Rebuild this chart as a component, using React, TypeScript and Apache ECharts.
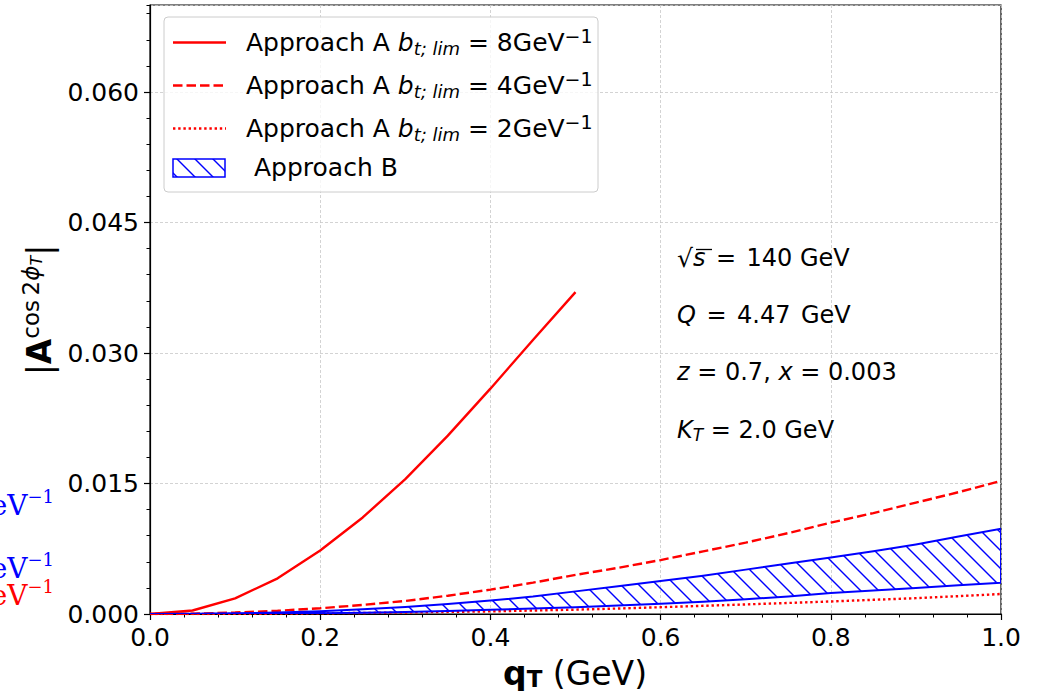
import { useEffect, useRef } from 'react';
import * as echarts from 'echarts';

// transverse momentum grid (GeV)
const qT = [0, 0.05, 0.1, 0.15, 0.2, 0.25, 0.3, 0.35, 0.4, 0.45, 0.5, 0.55, 0.6, 0.65, 0.7, 0.75, 0.8, 0.85, 0.9, 0.95, 1.0];
const qTShort = [0, 0.05, 0.1, 0.15, 0.2, 0.25, 0.3, 0.35, 0.4, 0.45, 0.5];

// |A^{cos 2phi_T}| for Approach A at three b_{t;lim} cut-offs
const approachA8 = [0, 0.0004, 0.0018, 0.0041, 0.0073, 0.0111, 0.0155, 0.0205, 0.0259, 0.0315, 0.037];
const approachA4 = [0, 0.00004, 0.00017, 0.00037, 0.00066, 0.00104, 0.0015, 0.0021, 0.0028, 0.0036, 0.0045,
  0.0053, 0.0062, 0.0072, 0.0082, 0.0093, 0.0105, 0.0116, 0.0128, 0.014, 0.0153];
const approachA2 = [0, 0.000004, 0.000015, 0.00004, 0.00008, 0.00012, 0.00017, 0.00024, 0.0003, 0.0004, 0.0005,
  0.00063, 0.00078, 0.00094, 0.0011, 0.00127, 0.00144, 0.00163, 0.00182, 0.00205, 0.0023];

// Approach B uncertainty band
const approachBLow = [0, 0.000005, 0.00002, 0.00005, 0.0001, 0.00015, 0.00024, 0.00035, 0.00048, 0.00062, 0.00078,
  0.00097, 0.00117, 0.0014, 0.0017, 0.002, 0.0024, 0.0027, 0.003, 0.0033, 0.0036];
const approachBHigh = [0, 0.00002, 0.00008, 0.00018, 0.00033, 0.00055, 0.0008, 0.00115, 0.00155, 0.002, 0.0026,
  0.0032, 0.0038, 0.0044, 0.0051, 0.0058, 0.0065, 0.0072, 0.008, 0.0089, 0.0098];

const legendCutoffs = ['8', '4', '2'];

const RED = '#ff0000';
const BLUE = '#0000ff';
const SANS = 'DejaVu Sans';
const SERIF = 'DejaVu Serif';
const RED_W = 2.4;
const DASH = [9.5, 4];
const DOT = [2.4, 2.8];
const legendDash: (number[] | null)[] = [null, DASH, DOT];

function makeHatch(size: number) {
  const c = document.createElement('canvas');
  c.width = size;
  c.height = size;
  const ctx = c.getContext('2d')!;
  ctx.strokeStyle = BLUE;
  ctx.lineWidth = 1.4;
  for (const k of [-1, 0, 1]) {
    ctx.beginPath();
    ctx.moveTo(k * size - 2, -2);
    ctx.lineTo(k * size + size + 2, size + 2);
    ctx.stroke();
  }
  return { image: c, repeat: 'repeat', imageWidth: size, imageHeight: size } as any;
}

function txt(x: number, y: number, text: string, rich: any, extra: any = {}) {
  return {
    type: 'text',
    x,
    y,
    z: 100,
    ...extra,
    style: {
      text,
      rich,
      fill: '#000',
      align: extra.align || 'left',
      textAlign: extra.align || 'left',
      verticalAlign: 'middle',
      textVerticalAlign: 'middle',
      fontFamily: SANS,
    },
  };
}

// token that sits off the main line: its box height sets the shift
function shifted(fontSize: number, box: number, where: 'top' | 'bottom', extra: any = {}) {
  return { fontSize, fontFamily: SANS, height: box, lineHeight: box, verticalAlign: where, fill: '#000', ...extra };
}

export default function App() {
  const ref = useRef<HTMLDivElement>(null);

  useEffect(() => {
    const chart = echarts.init(ref.current!, undefined, { renderer: 'svg' });
    const hatch = makeHatch(18);

    const legendRich = {
      n: { fontSize: 25, fontFamily: SANS, lineHeight: 25, fill: '#000' },
      i: { fontSize: 25, fontFamily: SANS, fontStyle: 'italic', lineHeight: 25, fill: '#000' },
      sub: shifted(18, 13.8, 'bottom', { fontStyle: 'italic' }),
      sup: shifted(19, 11, 'top'),
    };
    const legendRows = [42.5, 85.5, 128.5];
    const legendEls: any[] = [
      {
        type: 'rect',
        z: 90,
        shape: { x: 164, y: 17, width: 434, height: 175, r: 4 },
        style: { fill: 'rgba(255,255,255,0.8)', stroke: '#cccccc', lineWidth: 1 },
      },
    ];
    legendCutoffs.forEach((b, i) => {
      const y = legendRows[i];
      legendEls.push({
        type: 'line',
        z: 95,
        shape: { x1: 173, y1: y, x2: 226, y2: y },
        style: { stroke: RED, lineWidth: RED_W, lineDash: legendDash[i] || undefined },
      });
      legendEls.push(
        txt(246, y, `{n|Approach A }{i|b}{sub|t; lim}{n| = ${b}GeV}{sup|\u22121}`, legendRich)
      );
    });
    legendEls.push({
      type: 'rect',
      z: 95,
      shape: { x: 173, y: 159, width: 52, height: 18 },
      style: { fill: hatch, stroke: BLUE, lineWidth: 1.5 },
    });
    legendEls.push(txt(246, 167.5, '{n| Approach B}', legendRich));

    // kinematics box
    const annRich = {
      n: { fontSize: 24, fontFamily: SANS, lineHeight: 24, fill: '#000' },
      r: { fontSize: 25, fontFamily: SANS, lineHeight: 24, fill: '#000' },
      i: { fontSize: 24, fontFamily: SANS, fontStyle: 'italic', lineHeight: 24, fill: '#000' },
      w: { fontSize: 24, fontFamily: SANS, lineHeight: 24, width: 10.5 },
      sub: shifted(17, 14.4, 'bottom', { fontStyle: 'italic' }),
    };
    const annEls: any[] = [
      txt(677, 258, '{r|\u221a}{i|s}{w| }{n|=}{w| }{n|140 GeV}', annRich),
      { type: 'line', z: 100, shape: { x1: 696, y1: 249.5, x2: 712, y2: 249.5 }, style: { stroke: '#000', lineWidth: 1.3 } },
      txt(677, 315, '{i|Q}{w| }{n|=}{w| }{n|4.47}{w| }{n|GeV}', annRich),
      txt(677, 372, '{i|z}{n| = 0.7, }{i|x}{n| = 0.003}', annRich),
      txt(677, 430, '{i|K}{sub|T}{n| = 2.0 GeV}', annRich),
    ];

    // axis titles
    const titleRich = {
      n: { fontSize: 33, fontFamily: SANS, lineHeight: 33, fill: '#000' },
      b: { fontSize: 33, fontFamily: SANS, fontWeight: 'bold', lineHeight: 33, fill: '#000' },
      bsub: shifted(23, 21, 'bottom', { fontWeight: 'bold' }),
      sup: shifted(23, 17.8, 'top'),
      supi: shifted(23, 17.8, 'top', { fontStyle: 'italic' }),
      supsub: shifted(16, 28, 'top', { fontStyle: 'italic' }),
    };
    const titleEls: any[] = [
      txt(575, 673, '{b|q}{bsub|T}{n| (GeV)}', titleRich, { align: 'center' }),
      txt(39, 310, '{n||}{b|A}{sup|cos\u20092}{supi|\u03d5}{supsub|T}{n||}', titleRich, { align: 'center', rotation: Math.PI / 2 }),
    ];

    // labels running in from the left margin
    const edgeRich = (color: string) => ({
      m: { fontSize: 28, fontFamily: SERIF, lineHeight: 28, fill: color },
      p: { fontSize: 18, fontFamily: SERIF, height: 11, lineHeight: 11, verticalAlign: 'top', fill: color },
    });
    const edgeEls: any[] = [
      txt(54, 505, '{m|GeV}{p|\u22121}', edgeRich(BLUE), { align: 'right' }),
      txt(54, 568, '{m|GeV}{p|\u22121}', edgeRich(BLUE), { align: 'right' }),
      txt(54, 595, '{m|GeV}{p|\u22121}', edgeRich(RED), { align: 'right' }),
    ];

    const gridLine = { show: true, lineStyle: { color: '#c8c8c8', width: 0.8, type: [3, 2] } };
    const tickStyle = { color: '#000', width: 1.2 };

    chart.setOption({
      animation: false,
      backgroundColor: '#ffffff',
      textStyle: { fontFamily: SANS },
      grid: { left: 150, right: 50, top: 5, bottom: 77, show: true, borderColor: '#000', borderWidth: 1.2, backgroundColor: 'transparent' },
      xAxis: {
        type: 'value',
        min: 0,
        max: 1,
        interval: 0.2,
        axisLine: { lineStyle: tickStyle },
        axisTick: { length: 6, lineStyle: tickStyle },
        minorTick: { show: true, splitNumber: 5, length: 3.5, lineStyle: { color: '#000', width: 1 } },
        axisLabel: { fontSize: 25, color: '#000', fontFamily: SANS, margin: 11, formatter: (v: number) => v.toFixed(1) },
        splitLine: gridLine,
      },
      yAxis: [
        {
          type: 'value',
          min: 0,
          max: 0.07,
          interval: 0.015,
          axisLine: { show: true, lineStyle: tickStyle },
          axisTick: { show: true, length: 6, lineStyle: tickStyle },
          axisLabel: { fontSize: 25, color: '#000', fontFamily: SANS, margin: 11, showMaxLabel: false, formatter: (v: number) => v.toFixed(3) },
          splitLine: gridLine,
        },
        {
          type: 'value',
          min: 0,
          max: 0.07,
          interval: 0.003,
          position: 'left',
          axisLine: { show: false },
          axisTick: { show: true, length: 3.5, lineStyle: { color: '#000', width: 1 } },
          axisLabel: { show: false },
          splitLine: { show: false },
        },
      ],
      series: [
        {
          type: 'line',
          name: 'b8',
          data: qTShort.map((x, i) => [x, approachA8[i]]),
          symbol: 'none',
          lineStyle: { color: RED, width: RED_W },
          z: 3,
        },
        {
          type: 'line',
          name: 'b4',
          data: qT.map((x, i) => [x, approachA4[i]]),
          symbol: 'none',
          lineStyle: { color: RED, width: RED_W, type: DASH },
          z: 3,
        },
        {
          type: 'line',
          name: 'b2',
          data: qT.map((x, i) => [x, approachA2[i]]),
          symbol: 'none',
          lineStyle: { color: RED, width: RED_W, type: DOT },
          z: 3,
        },
        {
          // hatched band between the low and high Approach B curves
          type: 'custom',
          name: 'Approach B',
          coordinateSystem: 'cartesian2d',
          data: [[0, 0]],
          clip: true,
          z: 4,
          renderItem: (_params: any, api: any) => {
            const upper = qT.map((x, i) => api.coord([x, approachBHigh[i]]));
            const lower = qT.map((x, i) => api.coord([x, approachBLow[i]])).reverse();
            return {
              type: 'polygon',
              shape: { points: [...upper, ...lower] },
              style: { fill: hatch, stroke: BLUE, lineWidth: 2 },
            };
          },
        },
      ],
      graphic: [...legendEls, ...annEls, ...titleEls, ...edgeEls],
    });

    return () => chart.dispose();
  }, []);

  return (
    <div
      ref={ref}
      style={{ position: 'fixed', left: 0, top: 0, width: 1051, height: 691, background: '#fff' }}
    />
  );
}
